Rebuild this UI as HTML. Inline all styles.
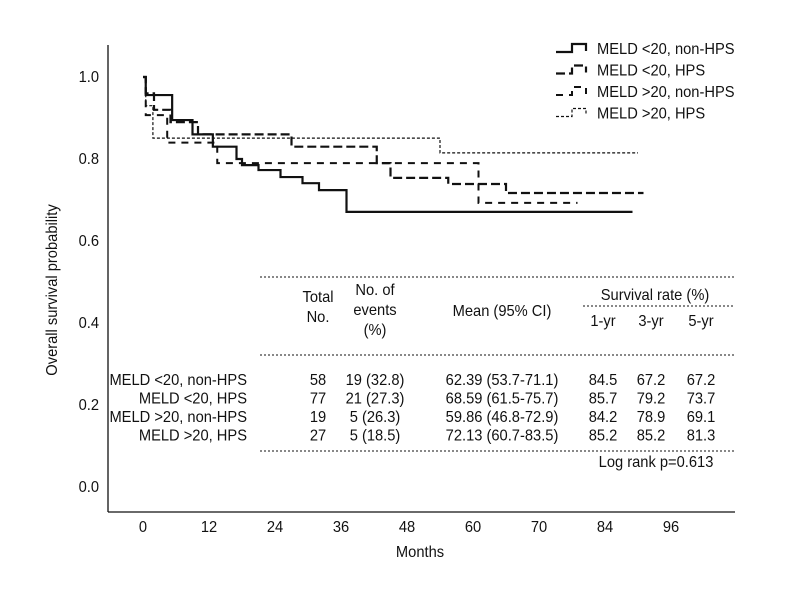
<!DOCTYPE html>
<html><head><meta charset="utf-8"><style>
body{margin:0;background:#fff}
svg{font-family:"Liberation Sans Narrow","Liberation Sans",sans-serif}
text{fill:#111;font-size:15px}
</style></head><body>
<svg id="c" width="800" height="600">
<g id="axes"></g>
<g id="curves"></g>
<g id="legend"></g>
<g id="table"></g>
</svg>
<script>
const xTicks=[0,12,24,36,48,60,72,84,96];
const xTickLabels=["0","12","24","36","48","60","70","84","96"];
const yTicks=[0,0.2,0.4,0.6,0.8,1.0];
const seriesNames=["MELD <20, non-HPS","MELD <20, HPS","MELD >20, non-HPS","MELD >20, HPS"];
const s1Times=[0,0.5,5.3,9,12.7,17,18,21,25,29,32,37,89];
const s1Vals=[1.0,0.956,0.895,0.86,0.83,0.80,0.785,0.773,0.756,0.741,0.724,0.671,0.671];
const s2Times=[0,0.5,2,5,10,27,42.5,45,55.5,66,91];
const s2Vals=[1.0,0.96,0.92,0.89,0.86,0.83,0.79,0.754,0.739,0.717,0.717];
const s3Times=[0,0.5,4.4,13.5,61,79];
const s3Vals=[1.0,0.907,0.84,0.79,0.693,0.693];
const s4Times=[0,0.5,1.8,54,90];
const s4Vals=[1.0,0.93,0.851,0.815,0.815];
const rowNames=["MELD <20, non-HPS","MELD <20, HPS","MELD >20, non-HPS","MELD >20, HPS"];
const totals=["58","77","19","27"];
const events=["19 (32.8)","21 (27.3)","5 (26.3)","5 (18.5)"];
const means=["62.39 (53.7-71.1)","68.59 (61.5-75.7)","59.86 (46.8-72.9)","72.13 (60.7-83.5)"];
const yr1=["84.5","85.7","84.2","85.2"];
const yr3=["67.2","79.2","78.9","85.2"];
const yr5=["67.2","73.7","69.1","81.3"];

const NS="http://www.w3.org/2000/svg";
const X=m=>143+m*5.5, Y=v=>487-v*410;
function el(p,tag,at,txt){const e=document.createElementNS(NS,tag);for(const k in at)e.setAttribute(k,at[k]);if(txt!=null)e.textContent=txt;p.appendChild(e);return e;}
function tx(p,x,y,anchor,s,rot){const e=el(p,'text',{x:0,y:0,'text-anchor':anchor,transform:`translate(${x},${y})${rot?' rotate(-90)':''} scale(0.98,1.05)`},s);return e;}
const axes=document.getElementById('axes');
let a=el(axes,'line',{x1:108,y1:45,x2:108,y2:512,stroke:'#111','stroke-width':1.3});


a=el(axes,'line',{x1:108,y1:512,x2:735,y2:512,stroke:'#111','stroke-width':1.3});


xTicks.forEach((t,i)=>{const e=tx(axes,X(t),532,'middle',xTickLabels[i]);

});
yTicks.forEach(t=>{const e=tx(axes,99,Y(t)+5,'end',t.toFixed(1));

});
a=tx(axes,420,557,'middle','Months');


a=tx(axes,57,290,'middle','Overall survival probability',true);



const styles=[{d:'none',w:2.2},{d:'9 4',w:2.2},{d:'7 6',w:2},{d:'3 2',w:1.2}];
const all=[[s1Times,s1Vals],[s2Times,s2Vals],[s3Times,s3Vals],[s4Times,s4Vals]];
const curves=document.getElementById('curves');
all.forEach(([t,v],i)=>{let d='M'+X(t[0])+','+Y(v[0]);
for(let k=1;k<t.length;k++){d+=' H'+X(t[k])+' V'+Y(v[k]);}
const p=el(curves,'path',{d:d,fill:'none',stroke:'#111','stroke-width':styles[i].w,'stroke-dasharray':styles[i].d});

});

const lg=document.getElementById('legend');
seriesNames.forEach((n,i)=>{const y=48+i*21.5;
const p=el(lg,'path',{d:`M556,${y+4} H572 V${y-4} H586 V${y+3}`,fill:'none',stroke:'#111','stroke-width':styles[i].w,'stroke-dasharray':styles[i].d});


const t=tx(lg,597,y+6,'start',n);

});

const tb=document.getElementById('table');
[[260,277],[260,355],[260,451]].forEach(([x1,y])=>{const l=el(tb,'line',{x1:x1,y1:y,x2:735,y2:y,stroke:'#111','stroke-dasharray':'2 2'});

});
a=el(tb,'line',{x1:583,y1:306,x2:735,y2:306,stroke:'#111','stroke-dasharray':'2 2'});


const hdr=[[318,302,'Total'],[318,322,'No.'],[375,295,'No. of'],[375,315,'events'],[375,335,'(%)'],[502,316,'Mean (95% CI)'],[655,300,'Survival rate (%)'],[603,326,'1-yr'],[651,326,'3-yr'],[701,326,'5-yr']];
hdr.forEach(h=>{const t=tx(tb,h[0],h[1],'middle',h[2]);

});
rowNames.forEach((n,i)=>{const y=385+i*18.5;
const cols=[[247,'end',n],[318,'middle',totals[i]],[375,'middle',events[i]],[502,'middle',means[i]],[603,'middle',yr1[i]],[651,'middle',yr3[i]],[701,'middle',yr5[i]]];
cols.forEach(c=>{const t=tx(tb,c[0],y,c[1],c[2]);

});});
a=tx(tb,656,467,'middle','Log rank p=0.613');


</script>
</body></html>
